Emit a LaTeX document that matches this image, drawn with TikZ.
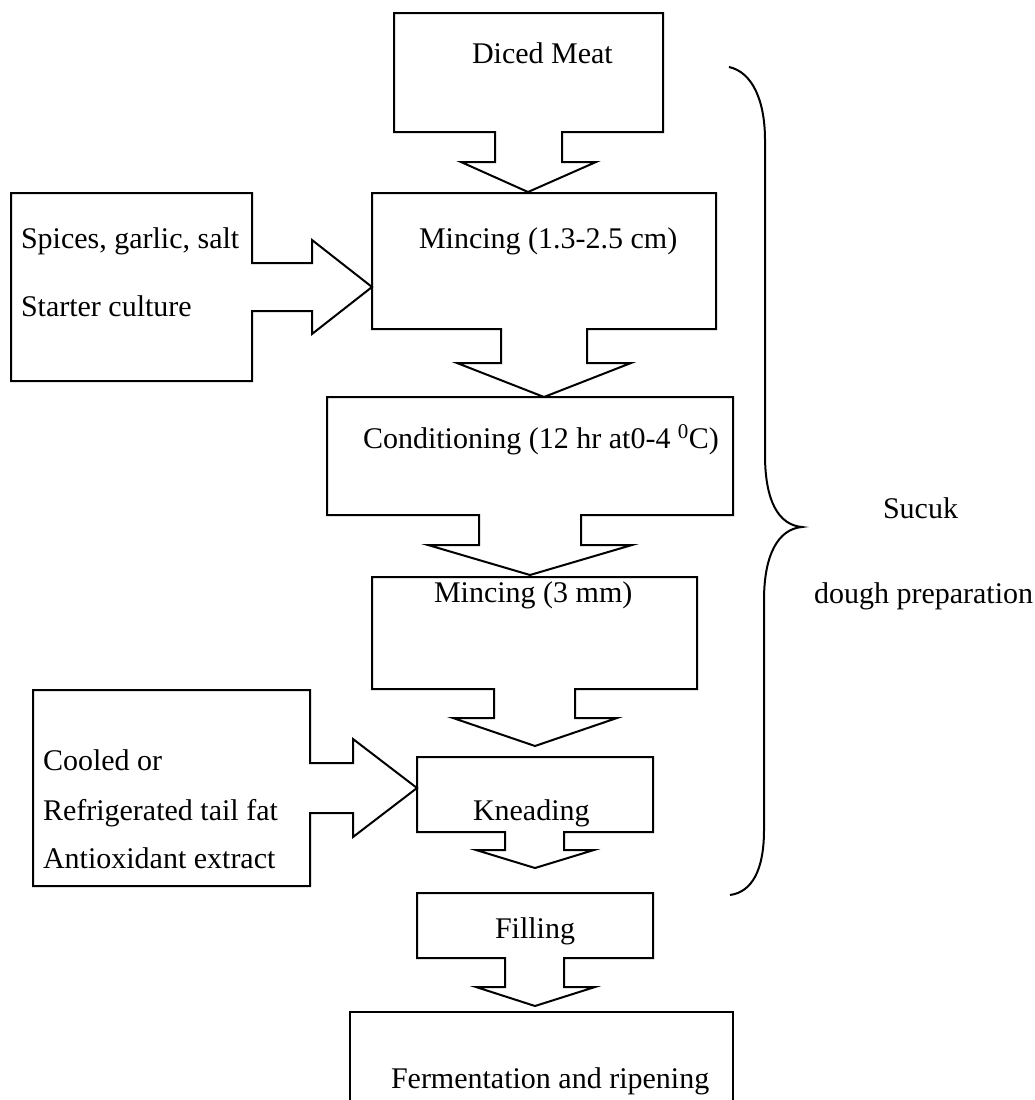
\documentclass[tikz,border=0pt]{standalone}
\usepackage{fontspec}
\setmainfont{Liberation Serif}
\begin{document}
\begin{tikzpicture}[x=1pt,y=-1pt,line width=2pt,
  every node/.style={inner sep=0pt,anchor=base west,font=\fontsize{30}{36}\selectfont}]
\useasboundingbox (0,0) rectangle (1035,1100);
% Diced meat
\draw (394,13) -- (663,13) -- (663,132) -- (562,132) -- (562,162) -- (596,162) -- (528,192) -- (461,162) -- (495,162) -- (495,132) -- (394,132) -- cycle;
\node (dm) at (471,63) {Diced Meat};
% Mincing, coarse
\draw (372,193) -- (716,193) -- (716,329) -- (587,329) -- (587,363) -- (631,363) -- (544,397) -- (457,363) -- (501,363) -- (501,329) -- (372,329) -- cycle;
\node (mc1) at (418,248) {Mincing (1.3-2.5 cm)};
% Spices coming in from the left
\draw (11,193) -- (252,193) -- (252,263) -- (312,263) -- (312,240) -- (372,287) -- (312,334) -- (312,311) -- (252,311) -- (252,381) -- (11,381) -- cycle;
\node (sp1) at (20,248) {Spices, garlic, salt};
\node (sp2) at (20,316) {Starter culture};
% Conditioning
\draw (327,397) -- (733,397) -- (733,515) -- (581,515) -- (581,545) -- (632,545) -- (530,575) -- (428,545) -- (479,545) -- (479,515) -- (327,515) -- cycle;
\node (cd) at (362,448) {Conditioning (12 hr at0-4 \textsuperscript{0}C)};
% Mincing, fine
\draw (372,577) -- (697,577) -- (697,689) -- (575,689) -- (575,718) -- (617,718) -- (535,746) -- (453,718) -- (494,718) -- (494,689) -- (372,689) -- cycle;
\node (mc2) at (433,602) {Mincing (3 mm)};
% Tail fat coming in from the left
\draw (33,690) -- (310,690) -- (310,763) -- (353,763) -- (353,739) -- (417,788) -- (353,837) -- (353,813) -- (310,813) -- (310,886) -- (33,886) -- cycle;
\node (ft1) at (42,770) {Cooled or};
\node (ft2) at (42,820) {Refrigerated tail fat};
\node (ft3) at (42,868) {Antioxidant extract};
% Kneading
\draw (417,757) -- (653,757) -- (653,832) -- (564,832) -- (564,850) -- (594,850) -- (535,868) -- (476,850) -- (505,850) -- (505,832) -- (417,832) -- cycle;
\node (kn) at (472,820) {Kneading};
% Filling
\draw (417,893) -- (653,893) -- (653,958) -- (564,958) -- (564,987) -- (595,987) -- (535,1006) -- (476,987) -- (505,987) -- (505,958) -- (417,958) -- cycle;
\node (fl) at (494,938) {Filling};
% Fermentation, cut off at the bottom
\draw (350,1102) -- (350,1012) -- (733,1012) -- (733,1102);
\node (fr) at (390,1088) {Fermentation and ripening};
% Brace and its label
\draw (729,67) .. controls (752,72) and (765,100) .. (765,140) -- (765,455)
  .. controls (765,500) and (778,525) .. (802,527)
  .. controls (778,529) and (764,555) .. (764,600) -- (764,830)
  .. controls (764,870) and (752,892) .. (730,895);
\node (sk1) at (882,518) {Sucuk};
\node (sk2) at (813,603) {dough preparation};
\end{tikzpicture}
\end{document}
